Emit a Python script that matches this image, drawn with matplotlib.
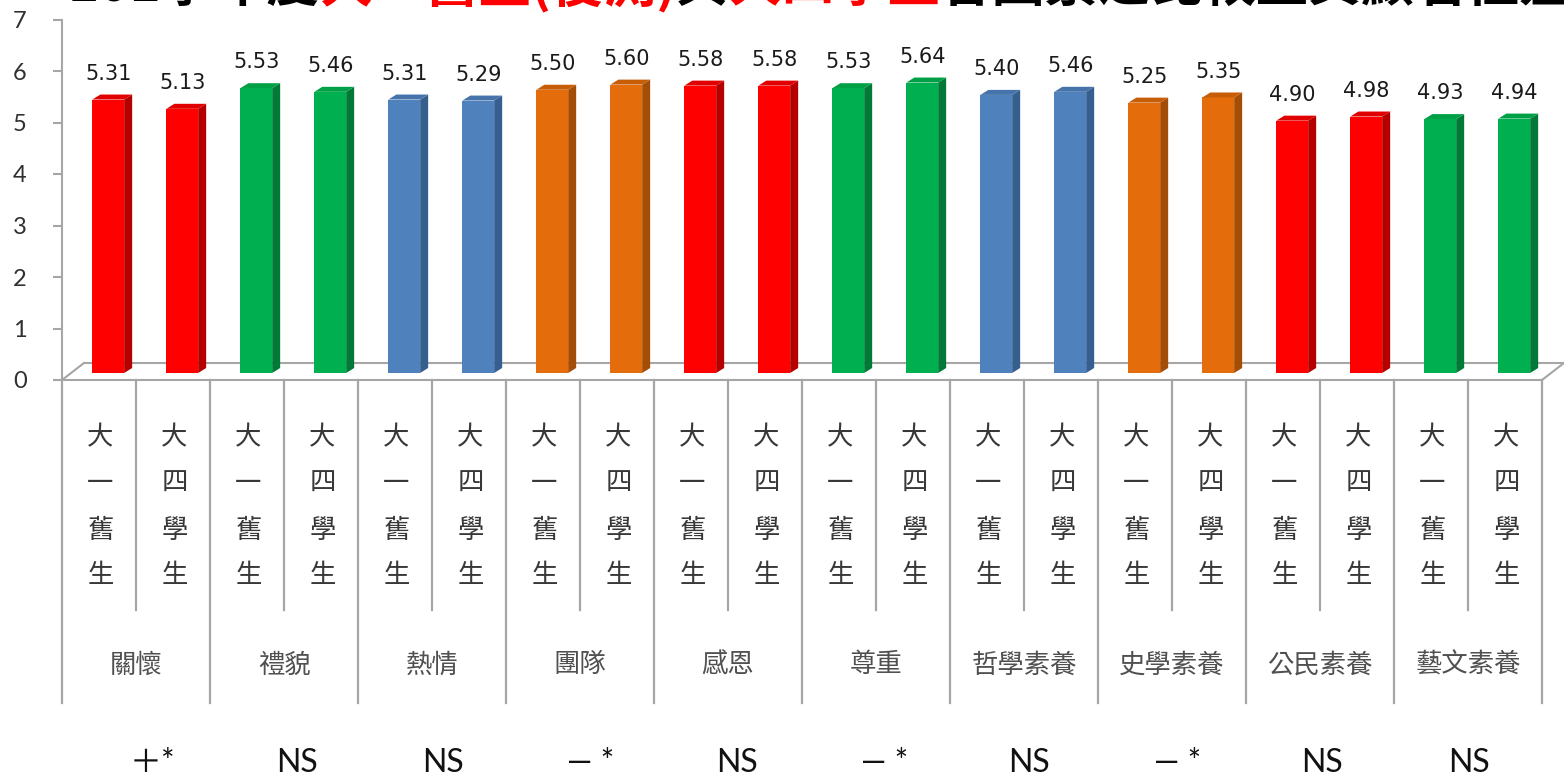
import matplotlib
matplotlib.use('Agg')
import matplotlib.pyplot as plt
from matplotlib.patches import Polygon

# ---------------- data ----------------
groups = ['關懷', '禮貌', '熱情', '團隊', '感恩', '尊重', '哲學素養', '史學素養', '公民素養', '藝文素養']
sub_labels = ['大一舊生', '大四學生']
freshmen = [5.31, 5.53, 5.31, 5.50, 5.58, 5.53, 5.40, 5.25, 4.90, 4.93]
seniors = [5.13, 5.46, 5.29, 5.60, 5.58, 5.64, 5.46, 5.35, 4.98, 4.94]
significance = ['＋*', 'NS', 'NS', '— *', 'NS', '— *', 'NS', '— *', 'NS', 'NS']
group_colors = ['red', 'green', 'blue', 'orange', 'red', 'green', 'blue', 'orange', 'red', 'green']
yticks = [0, 1, 2, 3, 4, 5, 6, 7]
title_parts = [('101學年度', 'black'), ('大一舊生(後測)', 'red'), ('與', 'black'),
               ('大四學生', 'red'), ('各因素之比較暨其顯著性差異', 'black')]

# ---------------- style ----------------
palette = {  # front, side, top
    'red': ('#ff0000', '#b50000', '#e10000'),
    'green': ('#00b050', '#007a36', '#00a046'),
    'blue': ('#4f81bd', '#365f8f', '#4673aa'),
    'orange': ('#e46c0a', '#a44d07', '#c85d08'),
}
W, H = 1564, 777
AX_L, AX_R, AX_B, AX_T = 62, 1542, 380, 19.5
CJK = ['Noto Sans CJK TC', 'DejaVu Sans']
LAT = ['Lato', 'Noto Sans CJK TC', 'DejaVu Sans']
GRID = '#a6a6a6'

fig = plt.figure(figsize=(W / 100, H / 100), dpi=100)
ax = fig.add_axes([AX_L / W, (H - AX_B) / H, (AX_R - AX_L) / W, (AX_B - AX_T) / H])
nslots = 2 * len(groups)
ax.set_xlim(0, nslots)
ax.set_ylim(yticks[0], yticks[-1])

ppx = (AX_R - AX_L) / nslots          # px per slot
ppy = (AX_B - AX_T) / yticks[-1]      # px per unit


def vy(px):
    return (AX_B - px) / ppy


# axes styling
for s in ['top', 'right', 'bottom']:
    ax.spines[s].set_visible(False)
ax.spines['left'].set_color(GRID)
ax.spines['left'].set_linewidth(1.5)
ax.set_xticks([])
ax.set_yticks(yticks)
ax.set_yticklabels([str(t) for t in yticks], family=LAT, fontsize=17, color='#303030')
ax.tick_params(axis='y', direction='out', length=6.5, width=1.5, color=GRID, pad=19)

# 3D floor
dxf, dyf = 22 / ppx, 17 / ppy
ax.plot([0, nslots], [0, 0], color=GRID, lw=1.5, clip_on=False, zorder=1)
ax.plot([dxf, nslots + dxf], [dyf, dyf], color=GRID, lw=1.5, clip_on=False, zorder=1)
ax.plot([0, dxf], [0, dyf], color=GRID, lw=1.5, clip_on=False, zorder=1)
ax.plot([nslots, nslots + dxf], [0, dyf], color=GRID, lw=1.5, clip_on=False, zorder=1)

# bars
base = 7 / ppy
bar_off, bar_w = 0.41, 0.43
dx, dy = 8 / ppx, 5 / ppy
for g in range(len(groups)):
    front, side, top = palette[group_colors[g]]
    for j, v in enumerate([freshmen[g], seniors[g]]):
        k = 2 * g + j
        x0 = k + bar_off
        ax.bar(x0, v, width=bar_w, bottom=base, align='edge', color=front, lw=0, zorder=3)
        ax.add_patch(Polygon([(x0 + bar_w, base), (x0 + bar_w, base + v),
                              (x0 + bar_w + dx, base + v + dy), (x0 + bar_w + dx, base + dy)],
                             closed=True, color=side, lw=0, zorder=3, clip_on=False))
        ax.add_patch(Polygon([(x0, base + v), (x0 + bar_w, base + v),
                              (x0 + bar_w + dx, base + v + dy), (x0 + dx, base + v + dy)],
                             closed=True, color=top, lw=0, zorder=3, clip_on=False))
        ax.text(x0 + bar_w / 2, v + 0.64, f'{v:.2f}', ha='center', va='center',
                fontsize=15, color='#1a1a1a', family=['DejaVu Sans'], zorder=4)

# category separators below the axis
for k in range(nslots + 1):
    y_end = vy(703) if k % 2 == 0 else vy(610)
    ax.plot([k, k], [0, y_end], color=GRID, lw=1.6, clip_on=False, zorder=1)

# sub labels (vertical text)
char_px = [438, 483, 530, 576]
for g in range(len(groups)):
    for j, lab in enumerate(sub_labels):
        k = 2 * g + j
        for ch, py in zip(lab, char_px):
            ax.text(k + 0.52, vy(py), ch, ha='center', va='center', fontsize=19,
                    family=CJK, color='#383838', clip_on=False)

# group labels
for g, name in enumerate(groups):
    ax.text(2 * g + 1, vy(665), name, ha='center', va='center', fontsize=19,
            family=CJK, color='#505050', clip_on=False)

# significance labels
sig_offsets = [0.22, 0.18, 0.15, 0.15, 0.12, 0.12, 0.07, 0.08, 0.03, 0.01]
for g, s in enumerate(significance):
    ax.text(2 * g + 1 + sig_offsets[g], vy(772), s, ha='center', va='baseline',
            fontsize=23, family=LAT, color='#111111', clip_on=False)

# title (cut off at top edge in the reference)
fig.canvas.draw()
renderer = fig.canvas.get_renderer()
x = 68
for txt, col in title_parts:
    t = fig.text(x / W, 1 - 1 / H, txt, color=col, fontsize=38, fontweight='bold',
                 family=CJK, ha='left', va='baseline')
    bb = t.get_window_extent(renderer)
    x += bb.width

fig.savefig('out.png', dpi=100)
